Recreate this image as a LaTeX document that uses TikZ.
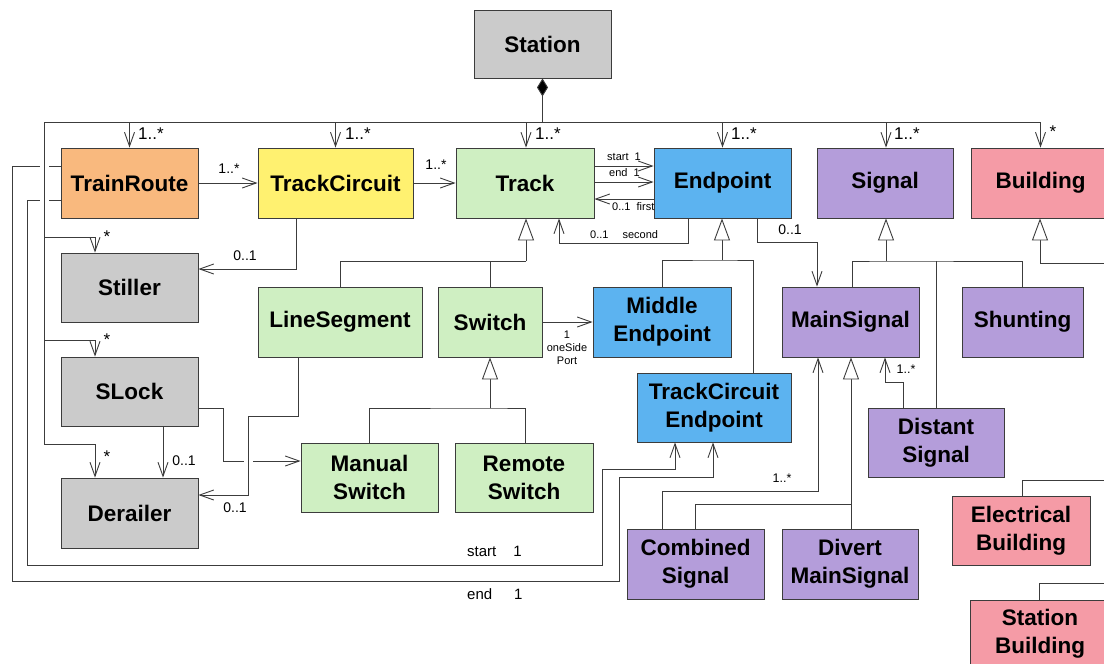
\documentclass[tikz,border=0pt]{standalone}
\usepackage{fontspec}
\setmainfont{Liberation Sans}
\usetikzlibrary{arrows.meta}

\definecolor{cRoute}{HTML}{F9B97E}
\definecolor{cCircuit}{HTML}{FFF170}
\definecolor{cTrack}{HTML}{CFEFC2}
\definecolor{cEnd}{HTML}{5CB3F0}
\definecolor{cSig}{HTML}{B49DDA}
\definecolor{cBld}{HTML}{F59BA6}
\definecolor{cGrey}{HTML}{CBCBCB}
\definecolor{cLine}{HTML}{3C3C3C}

\tikzset{
  cls/.style={draw=cLine, line width=0.9pt, inner sep=0pt, align=center,
    font=\fontsize{22.5}{28}\selectfont\bfseries, minimum height=70pt},
  lnk/.style={draw=cLine, line width=0.9pt},
  nav/.style={lnk, -{Straight Barb[length=14pt,width=10pt,line width=0.9pt]}},
  gen/.style={lnk, -{Triangle[length=22pt,width=16pt,fill=white,line width=0.9pt]}},
  comp/.style={lnk, {Diamond[length=18pt,width=11pt,fill=black]}-},
  busl/.style={font=\fontsize{17}{19}\selectfont, inner sep=0pt},
  lbl/.style={font=\fontsize{14}{16}\selectfont, inner sep=0pt},
  lbs/.style={font=\fontsize{12.5}{14}\selectfont, inner sep=0pt},
  tiny/.style={font=\fontsize{11}{13}\selectfont, inner sep=0pt, align=center},
  gap/.style={draw=white, line width=9pt},
}

\begin{document}
\begin{tikzpicture}[x=1pt,y=-1pt]
\useasboundingbox (0,0) rectangle (1104,664);
\clip (0,0) rectangle (1104,664);
\fill[white] (0,0) rectangle (1104,664);

% ---- classes ----
\node[cls, fill=cGrey,    minimum width=137pt, minimum height=68pt] (station) at (542.5,44) {Station};
\node[cls, fill=cRoute,   minimum width=137pt] (trainroute)   at (129.5,183) {TrainRoute};
\node[cls, fill=cCircuit, minimum width=155pt] (trackcircuit) at (335.5,183) {TrackCircuit};
\node[cls, fill=cTrack,   minimum width=138pt] (track)        at (525,183)   {Track};
\node[cls, fill=cEnd,     minimum width=137pt] (endpoint)     at (722.5,183) {Endpoint};
\node[cls, fill=cSig,     minimum width=136pt] (signal)       at (885,183)   {Signal};
\node[cls, fill=cBld,     minimum width=139pt] (building)     at (1040.5,183) {Building};

\node[cls, fill=cGrey, minimum width=137pt, minimum height=69pt] (stiller)  at (129.5,287.5) {Stiller};
\node[cls, fill=cGrey, minimum width=137pt, minimum height=69pt] (slock)    at (129.5,391.5) {SLock};
\node[cls, fill=cGrey, minimum width=137pt] (derailer) at (129.5,513) {Derailer};

\node[cls, fill=cTrack, minimum width=164pt] (linesegment) at (340,322) {LineSegment};
\node[cls, fill=cTrack, minimum width=104pt] (switch)      at (490,322) {Switch};
\node[cls, fill=cEnd,   minimum width=138pt] (middle)      at (662,322) {Middle\\Endpoint};
\node[cls, fill=cSig,   minimum width=137pt] (mainsignal)  at (850.5,322) {MainSignal};
\node[cls, fill=cSig,   minimum width=121pt] (shunting)    at (1022.5,322) {Shunting};

\node[cls, fill=cEnd, minimum width=154pt, minimum height=69pt] (tce)     at (714,407.5) {TrackCircuit\\Endpoint};
\node[cls, fill=cSig, minimum width=136pt, minimum height=69pt] (distant) at (936,442.5) {Distant\\Signal};
\node[cls, fill=cTrack, minimum width=137pt, minimum height=69pt] (manual) at (369.5,477.5) {Manual\\Switch};
\node[cls, fill=cTrack, minimum width=138pt, minimum height=69pt] (remote) at (524,477.5) {Remote\\Switch};
\node[cls, fill=cSig, minimum width=137pt] (combined) at (695.5,564) {Combined\\Signal};
\node[cls, fill=cSig, minimum width=136pt] (divert)   at (850,564)   {Divert\\MainSignal};
\node[cls, fill=cBld, minimum width=138pt, minimum height=69pt] (electrical) at (1021,530.5) {Electrical\\Building};
\node[cls, fill=cBld, minimum width=140pt, minimum height=68pt] (stationbldg) at (1040,634) {Station\\Building};

% ---- route ends: start / end to the track circuit endpoint ----
\draw[nav] ([yshift=-17pt]trainroute.west) -| (27,565) -| (602,469) -| ([xshift=-39pt]tce.south);
\draw[nav] ([yshift=17pt]trainroute.west) -| (12,581) -| (619,477) -| ([xshift=-1pt]tce.south);
\node[busl, anchor=west, font=\fontsize{15}{17}\selectfont] (lstart) at (467,551) {start\hspace{17pt}1};
\node[busl, anchor=west, font=\fontsize{15}{17}\selectfont] (lend)   at (467,594) {end\hspace{22pt}1};

% ---- composition bus from Station ----
\coordinate (busL) at (44,122);
\coordinate (busR) at (1040,122);
\draw[gap] (44,158) -- (44,208);
\draw[lnk] (busL) -- (44,444);
\draw[lnk] (busL) -- (busR);
\draw[comp] (station.south) -- (station.south |- busL);

\draw[nav] (trainroute.north |- busL)   -- (trainroute.north);
\draw[nav] (trackcircuit.north |- busL) -- (trackcircuit.north);
\draw[nav] ([xshift=1pt]track.north |- busL) -- ([xshift=1pt]track.north);
\draw[nav] (endpoint.north |- busL)     -- (endpoint.north);
\draw[nav] ([xshift=1pt]signal.north |- busL) -- ([xshift=1pt]signal.north);
\draw[nav] (building.north |- busL)     -- (building.north);

\node[busl] (m1) at (151,134) {1..*};
\node[busl] (m2) at (358,134) {1..*};
\node[busl] (m3) at (548,134) {1..*};
\node[busl] (m4) at (744,134) {1..*};
\node[busl] (m5) at (907,134) {1..*};
\node[busl] (m6) at (1053,132) {*};

\draw[nav] (44,237) -| ([xshift=-34.5pt]stiller.north);
\draw[nav] (44,340) -| ([xshift=-34.5pt]slock.north);
\draw[nav] (44,444) -| ([xshift=-34.5pt]derailer.north);
\node[busl] (s1) at (107,237) {*};
\node[busl] (s2) at (107,340) {*};
\node[busl] (s3) at (107,457) {*};

% ---- associations ----
\draw[nav] (trainroute.east) -- (trackcircuit.west);
\node[lbl] (a1) at (229,169) {1..*};
\draw[nav] (trackcircuit.east) -- (track.west);
\node[lbl] (a2) at (436,165) {1..*};

\draw[nav] ([yshift=17pt]track.east) -- ([yshift=17pt]endpoint.west);
\draw[nav] ([yshift=1pt]track.east)  -- ([yshift=1pt]endpoint.west);
\draw[nav] ([yshift=-16pt]endpoint.west) -- ([yshift=-16pt]track.east);
\node[tiny, anchor=west] (a3) at (607,157) {start~~1};
\node[tiny, anchor=west] (a4) at (609,173) {end~~1};
\node[tiny, anchor=west] (a5) at (612,207) {0..1~~first};

\draw[nav] ([xshift=-34.5pt]endpoint.south) |- ([xshift=34pt,yshift=-25pt]track.south) -- ([xshift=34pt]track.south);
\node[tiny, anchor=west] (a6) at (590,235) {0..1\hspace{14pt}second};

\draw[nav] ([xshift=-39.5pt]trackcircuit.south) |- ([yshift=18.5pt]stiller.east);
\node[lbl] (a7) at (245,256) {0..1};

\draw[nav] ([xshift=34.5pt]endpoint.south) |- ([xshift=-33.5pt,yshift=44pt]mainsignal.north) -- ([xshift=-33.5pt]mainsignal.north);
\node[lbl] (a8) at (790,230) {0..1};

\draw[nav] (switch.east) -- (middle.west);
\node[tiny] (a9) at (567,348) {1\\oneSide\\Port};

\draw[nav] ([xshift=33.5pt]slock.south) -- ([xshift=33.5pt]derailer.north);
\node[lbl] (a10) at (184,461) {0..1};

\draw[nav] ([yshift=-16.5pt]slock.east) -| (223,461) -- ([yshift=16.5pt]manual.west);
\draw[gap] (248,455) -- (248,467);
\draw[nav] ([xshift=-42pt]linesegment.south) |- (248,416) |- ([yshift=18pt]derailer.east);
\node[lbl] (a11) at (235,508) {0..1};

\draw[nav] ([xshift=-33.5pt]combined.north) |- ([xshift=-32.5pt,yshift=-134pt]mainsignal.south) -- ([xshift=-32.5pt]mainsignal.south);
\node[lbs] (a12) at (782,478) {1..*};

\draw[nav] ([xshift=-33pt]distant.north) |- ([xshift=34.5pt,yshift=-25pt]mainsignal.south) -- ([xshift=34.5pt]mainsignal.south);
\node[lbs] (a13) at (906,369) {1..*};

% ---- generalisations ----
\coordinate (gT) at (526,261);
\draw[lnk] (linesegment.north) |- (gT);
\draw[lnk] (switch.north) -- (switch.north |- gT);
\draw[gen] (gT) -- (gT |- track.south);

\coordinate (gE) at (722,260);
\draw[lnk] (middle.north) |- (gE) -| ([xshift=39pt]tce.north);
\draw[gen] (gE) -- (gE |- endpoint.south);

\coordinate (gS) at (886,261);
\draw[lnk] ([xshift=1.5pt]mainsignal.north) |- (gS) -| (shunting.north);
\draw[lnk] (distant.north) -- (distant.north |- gS);
\draw[gen] (gS) -- (gS |- signal.south);

\coordinate (gB) at (1040,263);
\coordinate (bR) at (1112,263);
\draw[lnk] (gB) -- (bR);
\draw[gen] (gB) -- (gB |- building.south);
\draw[lnk] ([xshift=1pt]electrical.north) |- (1112,480);
\draw[lnk] ([xshift=-1pt]stationbldg.north) |- (1112,583);

\coordinate (gW) at (490,408);
\draw[lnk] (manual.north) |- (gW) -| ([xshift=1pt]remote.north);
\draw[gen] (gW) -- (gW |- switch.south);

\coordinate (gM) at (851,504);
\draw[lnk] (combined.north) |- (gM);
\draw[lnk] ([xshift=1pt]divert.north) -- (gM);
\draw[gen] (gM) -- (gM |- mainsignal.south);
\end{tikzpicture}
\end{document}
